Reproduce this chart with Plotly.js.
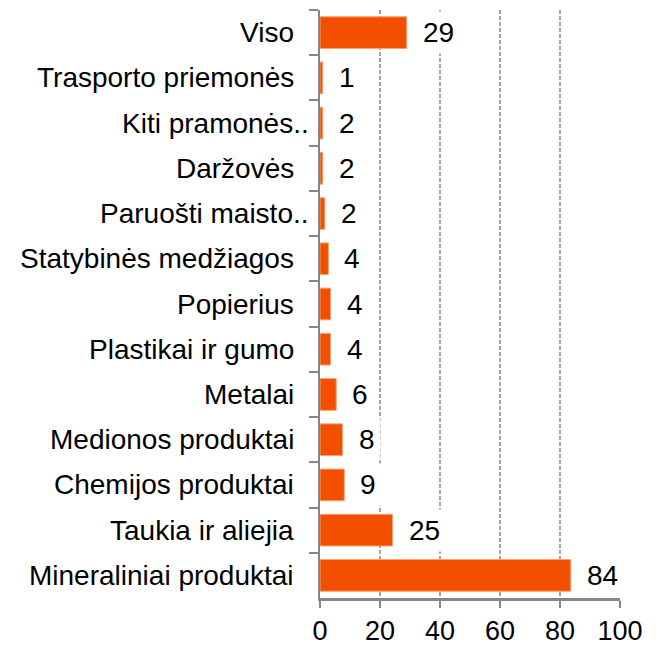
<!DOCTYPE html>
<html>
<head>
<meta charset="utf-8">
<script src="https://cdn.plot.ly/plotly-3.0.1.min.js"></script>
<style>html,body{margin:0;padding:0;background:#fff;}</style>
</head>
<body>
<div id="chart" style="width:659px;height:646px;"></div>
<script>
// Categories top to bottom
const categories = [
  "Viso",
  "Trasporto priemonės",
  "Kiti pramonės..",
  "Daržovės",
  "Paruošti maisto..",
  "Statybinės medžiagos",
  "Popierius",
  "Plastikai ir gumo",
  "Metalai",
  "Medionos produktai",
  "Chemijos produktai",
  "Taukia ir aliejia",
  "Mineraliniai produktai"
];
// Bar lengths
const values = [28.9, 0.9, 0.9, 0.9, 1.6, 2.8, 3.5, 3.5, 5.4, 7.5, 8.1, 24.2, 83.6];
// Data labels as printed
const valueLabels = ["29", "1", "2", "2", "2", "4", "4", "4", "6", "8", "9", "25", "84"];
const xTicks = [0, 20, 40, 60, 80, 100];

const FONT = "Liberation Sans, Arial, sans-serif";
const FS = 28;
const AXIS = "#868686";

const trace = {
  type: "bar",
  orientation: "h",
  y: categories,
  x: values,
  marker: {color: "#F25000", line: {color: "#F8A070", width: 1}},
  width: 0.7,
  hoverinfo: "none"
};

const annotations = [];
categories.forEach((c, i) => {
  const truncated = c.endsWith("..");
  annotations.push({
    xref: "paper", yref: "y", x: 0, y: c,
    text: c, showarrow: false, xanchor: "right", yanchor: "middle",
    xshift: truncated ? -9 : -24,
    font: {family: FONT, size: FS, color: "#000"}
  });
  annotations.push({
    xref: "x", yref: "y", x: values[i], y: c,
    text: valueLabels[i], showarrow: false, xanchor: "left", yanchor: "middle",
    xshift: 10, bgcolor: "#ffffff", borderpad: 5,
    font: {family: FONT, size: FS, color: "#000"}
  });
});

const layout = {
  width: 659, height: 646,
  margin: {l: 320, r: 39, t: 10, b: 48, pad: 0},
  paper_bgcolor: "#fff", plot_bgcolor: "#fff",
  showlegend: false,
  font: {family: FONT, size: FS, color: "#000"},
  xaxis: {
    range: [0, 100], tickvals: xTicks, ticktext: xTicks.map(String),
    showgrid: true, gridcolor: "#A6A6A6", gridwidth: 1.5, griddash: "4px,2px",
    zeroline: false, showline: true, linecolor: AXIS, linewidth: 2.5,
    ticks: "outside", ticklen: 7, tickwidth: 2, tickcolor: AXIS,
    ticklabelstandoff: 0,
    tickfont: {family: FONT, size: 27, color: "#000"},
    fixedrange: true
  },
  yaxis: {
    type: "category", categoryorder: "array", categoryarray: categories,
    autorange: "reversed",
    showgrid: false, zeroline: false, showline: true, linecolor: AXIS, linewidth: 2.5,
    ticks: "outside", tickson: "boundaries", ticklen: 9, tickwidth: 2, tickcolor: AXIS,
    showticklabels: false, fixedrange: true
  },
  annotations: annotations
};

Plotly.newPlot("chart", [trace], layout, {displayModeBar: false, staticPlot: true});
</script>
</body>
</html>
